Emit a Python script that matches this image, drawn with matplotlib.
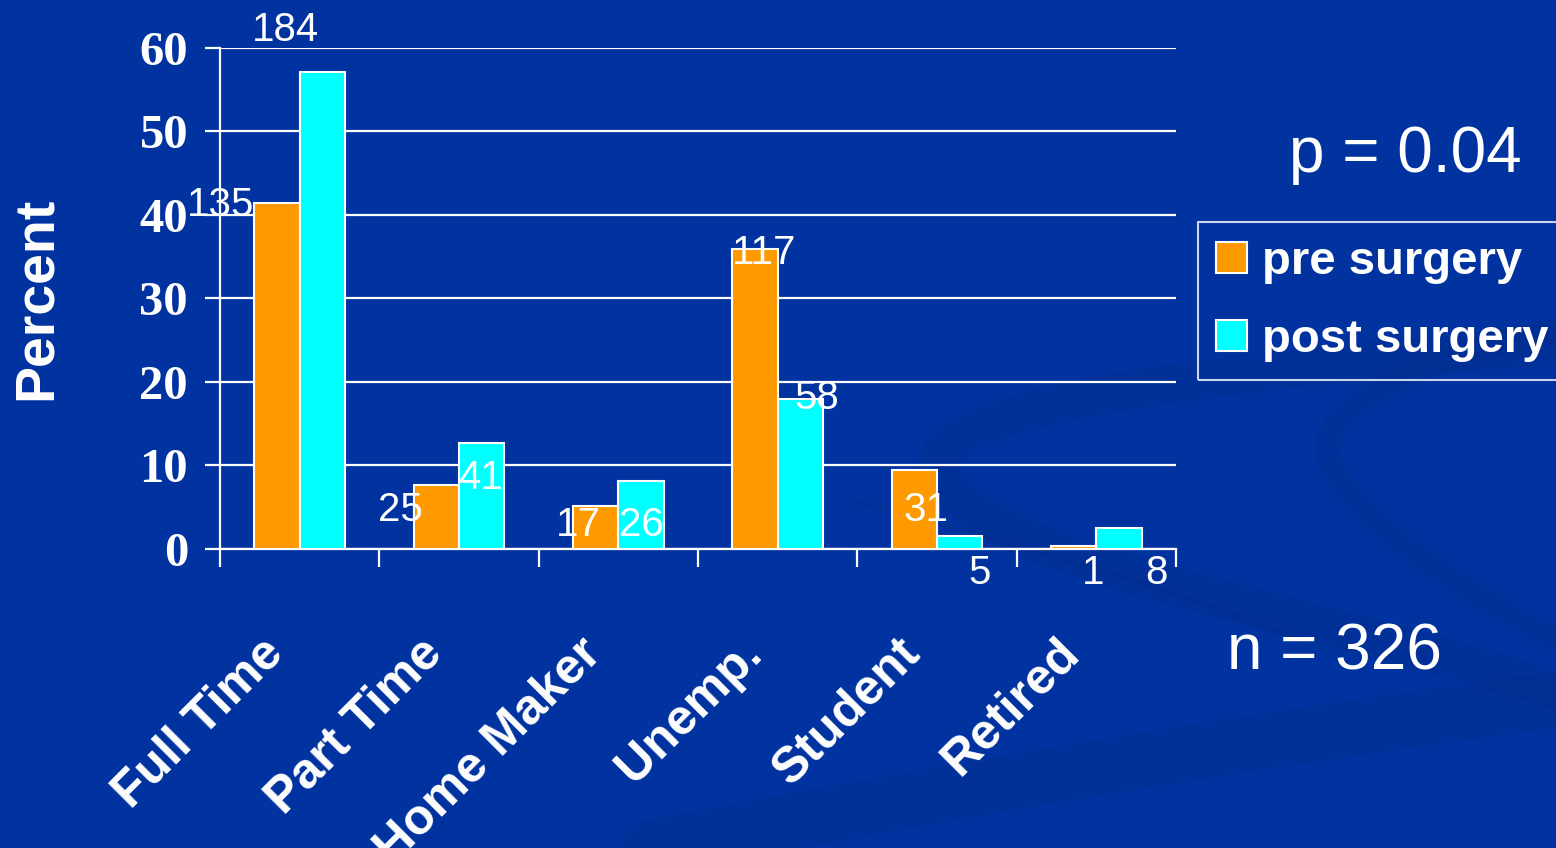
import numpy as np
import matplotlib
matplotlib.use("Agg")
import matplotlib.pyplot as plt
from matplotlib.path import Path
from matplotlib.patches import PathPatch
from matplotlib.transforms import ScaledTranslation

# data (percent of patients)
categories = ['Full Time', 'Part Time', 'Home Maker', 'Unemp.', 'Student', 'Retired']
pre_pct = [41.4, 7.7, 5.2, 35.9, 9.5, 0.3]
post_pct = [57.1, 12.7, 8.1, 18.0, 1.6, 2.5]
pre_counts = ['135', '25', '17', '117', '31', '1']
post_counts = ['184', '41', '26', '58', '5', '8']

# where the count labels sit relative to each bar top (as on the slide)
pre_lab_dx = [-0.357, -0.227, -0.11, 0.06, 0.07, 0.12]
pre_lab_dy = [-0.2, -3.0, -2.3, -0.5, -4.8, -3.2]
post_lab_dx = [-0.233, -0.01, 0.0, 0.105, 0.127, 0.237]
post_lab_dy = [5.1, -4.2, -5.2, 0.1, -4.5, -5.4]

bg = '#0033a0'
swoosh = '#002c8a'
orange = '#ff9900'
cyan = '#00ffff'
sans = 'Liberation Sans'
serif = 'Liberation Serif'

fig = plt.figure(figsize=(15.56, 8.48), dpi=100)
fig.patch.set_facecolor(bg)

# faint background swooshes of the slide template
bgax = fig.add_axes([0, 0, 1, 1], zorder=-1)
bgax.set_xlim(0, 1556)
bgax.set_ylim(848, 0)
bgax.axis('off')
C = Path.CURVE4
curves = [
    ([(1556, 345), (1100, 380), (860, 420), (960, 500),
      (1040, 570), (1300, 610), (1556, 690)], 28),
    ([(1556, 330), (1400, 360), (1290, 420), (1340, 480),
      (1380, 540), (1480, 600), (1556, 640)], 18),
    ([(650, 848), (950, 790), (1250, 740), (1556, 700)], 40),
    ([(850, 500), (1000, 540), (1150, 580), (1300, 640)], 4),
]
for pts, lw in curves:
    codes = [Path.MOVETO] + [C] * (len(pts) - 1)
    bgax.add_patch(PathPatch(Path(pts, codes), fill=False, edgecolor=swoosh,
                             linewidth=lw, alpha=0.35, capstyle='round'))

ax = fig.add_axes([0.1414, 0.3526, 0.6144, 0.5908])
ax.set_facecolor('none')

x = np.arange(len(categories))
w = 0.285
ax.bar(x - w / 2, pre_pct, w, color=orange, edgecolor='white', linewidth=1.5,
       label='pre surgery', zorder=3)
ax.bar(x + w / 2, post_pct, w, color=cyan, edgecolor='white', linewidth=1.5,
       label='post surgery', zorder=3)

for i in range(len(categories)):
    ax.text(x[i] - w / 2 + pre_lab_dx[i], pre_pct[i] + pre_lab_dy[i], pre_counts[i],
            ha='center', va='center', color='white', fontsize=29, family=sans,
            zorder=5, clip_on=False)
    ax.text(x[i] + w / 2 + post_lab_dx[i], post_pct[i] + post_lab_dy[i], post_counts[i],
            ha='center', va='center', color='white', fontsize=29, family=sans,
            zorder=5, clip_on=False)

ax.set_xlim(-0.5, 5.5)
ax.set_ylim(0, 60)

# y axis
ax.set_yticks(range(0, 61, 10))
ax.set_yticklabels([str(v) for v in range(0, 61, 10)], family=serif,
                   fontweight='bold', fontsize=35, color='white')
ax.yaxis.grid(True, color='white', linewidth=1.6, zorder=0)
ax.tick_params(axis='y', length=11, width=1.6, color='white', pad=12)
ax.set_ylabel('Percent', family=sans, fontweight='bold', fontsize=40,
              color='white')
ax.yaxis.set_label_coords(-0.165, 0.5)

# x axis: tick marks between categories, labels at centers
ax.set_xticks(np.arange(-0.5, 6, 1.0))
ax.set_xticklabels([])
ax.tick_params(axis='x', which='major', length=13, width=1.6, color='white')
ax.set_xticks(x, minor=True)
ax.set_xticklabels(categories, minor=True, rotation=45, ha='right',
                   rotation_mode='anchor', family=sans, fontweight='bold',
                   fontsize=36, color='white')
ax.tick_params(axis='x', which='minor', length=0, pad=58)
shift = ScaledTranslation(-0.40, 0, fig.dpi_scale_trans)
for lab in ax.get_xticklabels(minor=True):
    lab.set_transform(lab.get_transform() + shift)

for s in ['top', 'right']:
    ax.spines[s].set_visible(False)
for s in ['left', 'bottom']:
    ax.spines[s].set_color('white')
    ax.spines[s].set_linewidth(1.6)
ax.spines['left'].set_bounds(0, 60)

leg = ax.legend(loc='upper left', bbox_to_anchor=(1198 / 1556, 1 - 222 / 848),
                bbox_transform=fig.transFigure, frameon=True, fancybox=False,
                prop={'family': sans, 'weight': 'bold', 'size': 34},
                handlelength=0.65, handleheight=0.65, handletextpad=0.32,
                labelspacing=0.72, borderpad=0.38, borderaxespad=0)
leg.get_frame().set_edgecolor('white')
leg.get_frame().set_facecolor('none')
leg.get_frame().set_linewidth(1.5)
for t in leg.get_texts():
    t.set_color('white')

fig.text(1405 / 1556, 1 - 155 / 848, 'p = 0.04', ha='center', va='center',
         color='white', fontsize=46, family=sans)
fig.text(1334 / 1556, 1 - 652 / 848, 'n = 326', ha='center', va='center',
         color='white', fontsize=46, family=sans)

fig.savefig('out.png', dpi=100, facecolor=bg)
